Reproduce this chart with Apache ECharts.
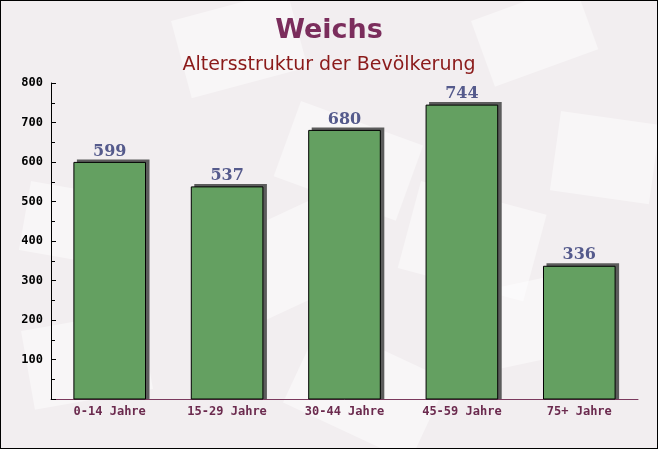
<!DOCTYPE html>
<html><head><meta charset="utf-8">
<script src="https://cdn.jsdelivr.net/npm/echarts@6/dist/echarts.min.js"></script>
<style>
html,body{margin:0;padding:0;background:#f2eef0;}
#c{width:658px;height:449px;box-sizing:border-box;border:1px solid #000;}
</style></head><body>
<div id="c"></div>
<script>
const categories = ['0-14 Jahre','15-29 Jahre','30-44 Jahre','45-59 Jahre','75+ Jahre'];
const values = [599, 537, 680, 744, 336];
const yTicks = [100,200,300,400,500,600,700,800];

const chart = echarts.init(document.getElementById('c'));
const deco = [
  {x:30,y:180,w:110,h:70,r:-10},{x:170,y:20,w:120,h:80,r:15},{x:300,y:100,w:130,h:80,r:-20},
  {x:470,y:20,w:110,h:70,r:20},{x:560,y:110,w:100,h:80,r:-8},{x:200,y:250,w:130,h:90,r:25},
  {x:420,y:180,w:130,h:90,r:-15},{x:20,y:330,w:120,h:80,r:10},{x:320,y:320,w:140,h:90,r:-25},
  {x:480,y:290,w:120,h:80,r:12}
];
function renderBar(params, api) {
  const idx = api.value(0);
  const val = api.value(1);
  const top = api.coord([idx, val]);
  const base = api.coord([idx, 0]);
  const band = api.size([1, 0])[0];
  const w = band * 0.61;
  const x = top[0] - w / 2;
  const h = base[1] - top[1];
  return {
    type: 'group',
    children: [
      {type:'rect', shape:{x:x+3, y:top[1]-3, width:w+1, height:h+3}, style:{fill:'#5c5c5c'}},
      {type:'rect', shape:{x:x, y:top[1], width:w, height:h}, style:{fill:'#64a061', stroke:'#000', lineWidth:1}},
      {type:'text', x: top[0], y: top[1]-3, style:{text:String(val), align:'center', verticalAlign:'bottom',
        font:'bold 16px "DejaVu Serif"', fill:'#555a8c'}}
    ]
  };
}
chart.setOption({
  backgroundColor: '#f2eef0',
  graphic: deco.map(d => ({type:'rect', x:d.x, y:d.y, rotation:d.r*Math.PI/180, z:-10, silent:true,
    shape:{width:d.w,height:d.h}, style:{fill:'rgba(255,255,255,0.45)'}})),
  title: [
    {text:'Weichs', left:'center', top:11, textStyle:{fontFamily:'DejaVu Sans', fontWeight:'bold', fontSize:27, color:'#7b2d5c'}},
    {text:'Altersstruktur der Bevölkerung', left:'center', top:50, textStyle:{fontFamily:'DejaVu Sans', fontWeight:'normal', fontSize:19, color:'#8b1a1a'}}
  ],
  grid:{left:50, top:82, right:19, bottom:49},
  xAxis:{
    type:'category', data:categories,
    axisLine:{lineStyle:{color:'#7b3a5e', width:1}},
    axisTick:{inside:true, length:4, lineStyle:{color:'#7b3a5e'}},
    axisLabel:{fontFamily:'DejaVu Sans Mono', fontWeight:'bold', fontSize:12, color:'#6b2a4e', margin:7}
  },
  yAxis:{
    type:'value', min:0, max:800, interval:100,
    axisLine:{show:true, lineStyle:{color:'#000', width:1}},
    axisTick:{show:true, inside:true, length:5, lineStyle:{color:'#000'}},
    minorTick:{show:true, splitNumber:2, length:4, lineStyle:{color:'#000'}},
    splitLine:{show:false},
    axisLabel:{fontFamily:'DejaVu Sans Mono', fontWeight:'bold', fontSize:12, color:'#000', margin:8,
      formatter: v => yTicks.includes(v) ? String(v) : ''}
  },
  series:[{
    type:'custom', renderItem: renderBar,
    data: values.map((v, i) => [i, v]),
    encode:{x:0, y:1}
  }]
});
</script></body></html>
